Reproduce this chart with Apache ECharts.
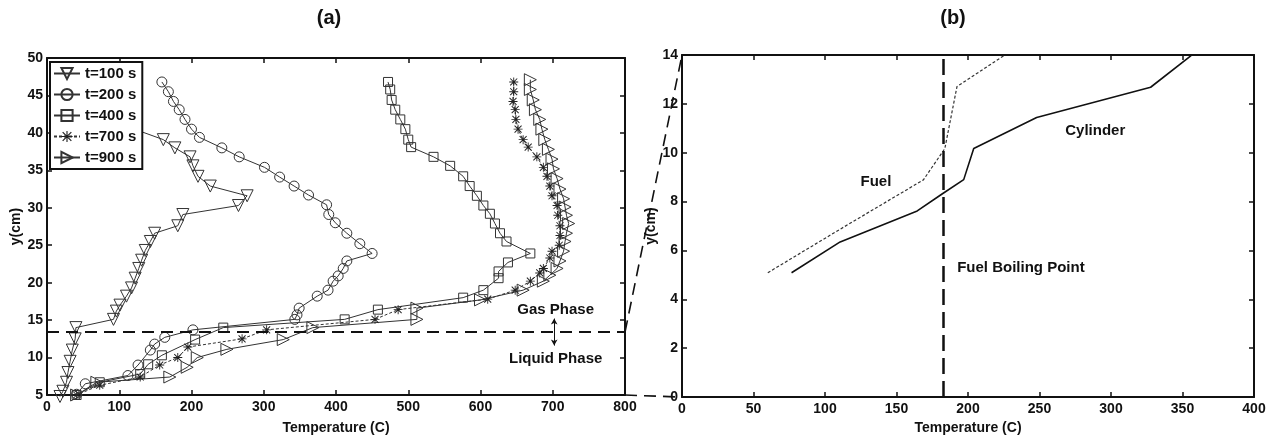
<!DOCTYPE html>
<html><head><meta charset="utf-8">
<script src="https://cdn.jsdelivr.net/npm/echarts@6/dist/echarts.min.js"></script>
<style>html,body{margin:0;padding:0;background:#fff}#c{width:1278px;height:440px}</style>
</head><body><div id="c"></div>
<script>
// ---------- data ----------
const seriesNames = ['t=100 s', 't=200 s', 't=400 s', 't=700 s', 't=900 s'];
// [temperature (C), y (cm)]
const t100 = [[112,42.1],[121,40.5],[161,39.1],[177,38.0],[198,36.8],[202,35.6],[209,34.2],[226,32.9],[277,31.6],[265,30.3],[188,29.1],[181,27.6],[149,26.6],[143,25.5],[136,24.3],[131,23.0],[127,21.9],[122,20.6],[117,19.3],[110,18.2],[101,17.0],[96,16.2],[92,15.1],[40,14.0],[39,12.5],[35,11.0],[32,9.5],[29,8.0],[27,6.7],[22,5.5],[18,4.8]];
const t200 = [[159,46.8],[168,45.5],[175,44.2],[183,43.1],[191,41.8],[200,40.5],[211,39.4],[242,38.0],[266,36.8],[301,35.4],[322,34.1],[342,32.9],[362,31.7],[387,30.4],[390,29.1],[399,28.0],[415,26.6],[433,25.2],[450,23.9],[415,22.9],[410,21.9],[403,20.9],[396,20.2],[389,19.0],[374,18.2],[349,16.6],[346,15.7],[343,15.1],[202,13.7],[163,12.7],[149,11.8],[143,11.0],[126,9.0],[112,7.6],[53,6.5],[41,5.1]];
const t400 = [[472,46.8],[475,45.8],[477,44.4],[482,43.1],[489,41.8],[496,40.5],[500,39.1],[504,38.1],[535,36.8],[558,35.6],[576,34.2],[585,32.9],[595,31.6],[604,30.3],[613,29.2],[620,27.9],[627,26.6],[636,25.5],[669,23.9],[638,22.7],[625,21.5],[625,20.6],[604,19.0],[576,18.0],[458,16.4],[412,15.1],[244,14.0],[205,12.4],[159,10.3],[140,9.1],[129,7.8],[73,6.7],[41,5.0]];
const t700 = [[646,46.8],[646,45.5],[645,44.2],[648,43.1],[649,41.8],[652,40.5],[659,39.1],[666,38.1],[678,36.8],[687,35.4],[692,34.2],[696,32.9],[699,31.6],[706,30.3],[707,29.0],[710,27.6],[710,26.3],[709,25.0],[699,24.2],[696,23.3],[687,21.9],[682,21.3],[669,20.2],[648,19.0],[610,17.8],[486,16.4],[454,15.1],[304,13.7],[270,12.5],[195,11.4],[181,10.0],[156,9.0],[129,7.4],[73,6.3],[41,5.0]];
const t900 = [[669,47.1],[669,45.8],[673,44.4],[676,43.1],[682,41.8],[685,40.5],[689,39.1],[694,37.8],[699,36.5],[701,35.2],[706,33.9],[710,32.5],[715,31.2],[717,30.1],[719,29.0],[722,27.9],[719,26.6],[717,25.5],[715,24.2],[710,22.9],[706,21.9],[696,21.0],[687,20.2],[659,19.0],[600,17.7],[512,16.6],[512,15.1],[368,14.0],[327,12.4],[249,11.1],[208,10.0],[194,8.7],[170,7.4],[69,6.7],[41,5.0]];
const fuel = [[60,5.09],[110,6.85],[168.8,8.89],[183.8,10.17],[192.3,12.71],[225,13.97]];
const cylinder = [[76.6,5.09],[110.6,6.35],[164.5,7.62],[181.6,8.3],[197,8.9],[204,10.17],[248,11.44],[327.7,12.68],[356,13.97]];
const gasLiquidY = 13.4;
const phaseArrow = [[702,15.2],[702,11.6]];
const boilingPointT = 182.4;
const leftX = {min: 0, max: 800, interval: 100};
const leftY = {min: 5, max: 50, interval: 5};
const rightX = {min: 0, max: 400, interval: 50};
const rightY = {min: 0, max: 14, interval: 2};
const leftNotes = [{name: 'Gas Phase', value: [704, 16.4]}, {name: 'Liquid Phase', value: [704, 9.8]}];
const rightNotes = [{name: 'Fuel', value: [135.6, 8.82]}, {name: 'Cylinder', value: [289, 10.9]}, {name: 'Fuel Boiling Point', value: [237, 5.3]}];

// ---------- styling ----------
const FONT = '"Liberation Sans", Arial, sans-serif';
const INK = '#111';
const LINE = '#333';
const txt = (size) => ({fontFamily: FONT, fontWeight: 'bold', fontSize: size, color: INK});

function mainAxis(grid, rng, isX, name, nameGap) {
  return {
    gridIndex: grid, type: 'value', min: rng.min, max: rng.max, interval: rng.interval,
    position: isX ? 'bottom' : 'left',
    axisLine: {show: true, onZero: false, lineStyle: {color: INK, width: 2}},
    axisTick: {show: true, inside: true, length: 5, lineStyle: {color: INK, width: 1.5}},
    axisLabel: Object.assign({margin: isX ? 5 : 4}, txt(14)),
    splitLine: {show: false},
    name: name, nameLocation: 'middle', nameGap: nameGap, nameTextStyle: txt(14)
  };
}
function boxAxis(grid, rng, isX) {
  return {
    gridIndex: grid, type: 'value', min: rng.min, max: rng.max, interval: rng.interval,
    position: isX ? 'top' : 'right',
    axisLine: {show: true, onZero: false, lineStyle: {color: INK, width: 2}},
    axisTick: {show: true, inside: true, length: 5, lineStyle: {color: INK, width: 1.5}},
    axisLabel: {show: false}, splitLine: {show: false}
  };
}
const asterisk = 'path://M9,0L11,0L11,20L9,20Z M0,9L20,9L20,11L0,11Z M1.5,3L3,1.5L18.5,17L17,18.5Z M17,1.5L18.5,3L3,18.5L1.5,17Z';
const hollow = {color: 'rgba(255,255,255,0)', borderColor: LINE, borderWidth: 1};
function leftSeries(name, data, symbol, size, rotate, dashed, item) {
  return {
    name: name, type: 'line', xAxisIndex: 0, yAxisIndex: 0, data: data,
    symbol: symbol, symbolSize: size, symbolRotate: rotate, showAllSymbol: true, clip: false,
    lineStyle: {color: LINE, width: 1, type: dashed ? [3, 2] : 'solid'},
    itemStyle: item || hollow, emphasis: {disabled: true}, z: 3
  };
}
function notes(xi, data) {
  return {
    type: 'scatter', xAxisIndex: xi, yAxisIndex: xi, data: data,
    symbolSize: 1, itemStyle: {color: 'rgba(0,0,0,0)', opacity: 1}, silent: true,
    label: Object.assign({show: true, position: 'inside', formatter: '{b}', opacity: 1}, txt(15))
  };
}

const chart = echarts.init(document.getElementById('c'), null, {renderer: 'canvas'});
chart.setOption({
  animation: false,
  backgroundColor: '#fff',
  grid: [
    {left: 47, right: 1278 - 625, top: 58, bottom: 440 - 398},
    {left: 682, right: 1278 - 1254, top: 55, bottom: 440 - 398}
  ],
  xAxis: [
    mainAxis(0, leftX, true, 'Temperature (C)', 26),
    boxAxis(0, leftX, true),
    mainAxis(1, rightX, true, 'Temperature (C)', 21),
    boxAxis(1, rightX, true)
  ],
  yAxis: [
    mainAxis(0, leftY, false, 'y(cm)', 22),
    boxAxis(0, leftY, false),
    mainAxis(1, rightY, false, 'y(cm)', 21),
    boxAxis(1, rightY, false)
  ],
  legend: {
    data: seriesNames, orient: 'vertical', left: 50, top: 62,
    backgroundColor: '#fff', borderColor: INK, borderWidth: 2, borderRadius: 0,
    padding: [4, 6, 4, 3], itemGap: 6, itemWidth: 26, itemHeight: 14,
    textStyle: txt(15), z: 10, selectedMode: false
  },
  series: [
    leftSeries(seriesNames[0], t100, 'triangle', 12, 180, false),
    leftSeries(seriesNames[1], t200, 'circle', 10, 0, false),
    leftSeries(seriesNames[2], t400, 'rect', 9, 0, false),
    leftSeries(seriesNames[3], t700, asterisk, 9, 0, true, {color: '#222', borderWidth: 0}),
    leftSeries(seriesNames[4], t900, 'triangle', 12, -90, false),
    {
      name: 'phase', type: 'line', xAxisIndex: 0, yAxisIndex: 0, data: [],
      markLine: {
        silent: true, animation: false, symbol: 'none', label: {show: false},
        lineStyle: {color: INK, width: 2, type: [12, 7]},
        data: [{yAxis: gasLiquidY}]
      }
    },
    {
      name: 'phaseArrow', type: 'line', xAxisIndex: 0, yAxisIndex: 0, data: [],
      markLine: {
        silent: true, animation: false, symbol: ['arrow', 'arrow'], symbolSize: [5, 6], label: {show: false},
        lineStyle: {color: INK, width: 1, type: 'solid'},
        data: [[{coord: phaseArrow[0]}, {coord: phaseArrow[1]}]]
      }
    },
    notes(0, leftNotes),
    {
      name: 'Fuel', type: 'line', xAxisIndex: 2, yAxisIndex: 2, data: fuel, symbol: 'none',
      lineStyle: {color: LINE, width: 1.2, type: [3, 2]}, emphasis: {disabled: true}
    },
    {
      name: 'Cylinder', type: 'line', xAxisIndex: 2, yAxisIndex: 2, data: cylinder, symbol: 'none',
      lineStyle: {color: INK, width: 1.6}, emphasis: {disabled: true}
    },
    {
      name: 'boiling', type: 'line', xAxisIndex: 2, yAxisIndex: 2, data: [],
      markLine: {
        silent: true, animation: false, symbol: 'none', label: {show: false},
        lineStyle: {color: INK, width: 2.5, type: [16, 7]},
        data: [{xAxis: boilingPointT}]
      }
    },
    notes(2, rightNotes)
  ]
});

// connectors between the two panels, placed through the axes' own scales
const a1 = chart.convertToPixel({gridIndex: 0}, [leftX.max, gasLiquidY]);
const b1 = chart.convertToPixel({gridIndex: 1}, [rightX.min, rightY.max]);
const a2 = chart.convertToPixel({gridIndex: 0}, [leftX.max, leftY.min]);
const b2 = chart.convertToPixel({gridIndex: 1}, [rightX.min, rightY.min]);
const lx = chart.convertToPixel({gridIndex: 0}, [(leftX.min + leftX.max) / 2, leftY.max]);
const rx = chart.convertToPixel({gridIndex: 1}, [(rightX.min + rightX.max) / 2, rightY.max]);
const dash = {stroke: INK, lineWidth: 1.6, lineDash: [12, 7], fill: null};
chart.setOption({
  graphic: [
    {type: 'line', shape: {x1: a1[0], y1: a1[1], x2: b1[0], y2: b1[1]}, style: dash, z: 5, silent: true},
    {type: 'line', shape: {x1: a2[0], y1: a2[1], x2: b2[0], y2: b2[1]}, style: dash, z: 5, silent: true},
    {type: 'text', x: lx[0] - 7, y: 18, style: {text: '(a)', fill: INK, font: 'bold 20px ' + FONT, align: 'center', verticalAlign: 'middle'}},
    {type: 'text', x: rx[0] - 15, y: 18, style: {text: '(b)', fill: INK, font: 'bold 20px ' + FONT, align: 'center', verticalAlign: 'middle'}}
  ]
});
</script>
</body></html>
